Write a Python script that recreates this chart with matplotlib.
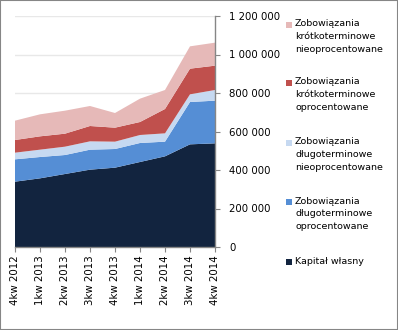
import matplotlib
matplotlib.use("Agg")
import matplotlib.pyplot as plt
from matplotlib.patches import Rectangle
import numpy as np

categories = ["4kw 2012", "1kw 2013", "2kw 2013", "3kw 2013", "4kw 2013",
              "1kw 2014", "2kw 2014", "3kw 2014", "4kw 2014"]

kapital = [339400, 356700, 379200, 401700, 412100, 441600, 471000, 533300, 538500]
dl_opr = [116000, 110800, 98700, 103900, 97000, 98700, 76200, 219900, 221700]
dl_nieopr = [34600, 38100, 43300, 43300, 38100, 41500, 43300, 39900, 55400]
kr_opr = [65800, 69300, 67500, 79700, 72700, 67600, 126400, 133300, 126400]
kr_nieopr = [100500, 114300, 119500, 103900, 76200, 121200, 98700, 116000, 119500]

series_labels = ["Kapitał własny",
                 "Zobowiązania\ndługoterminowe\noprocentowane",
                 "Zobowiązania\ndługoterminowe\nnieoprocentowane",
                 "Zobowiązania\nkrótkoterminowe\noprocentowane",
                 "Zobowiązania\nkrótkoterminowe\nnieoprocentowane"]
colors = ["#12243F", "#558ED5", "#C6D9F1", "#C0504D", "#E6B9B8"]

y_ticks = [0, 200000, 400000, 600000, 800000, 1000000, 1200000]
y_ticklabels = ["0", "200 000", "400 000", "600 000", "800 000", "1 000 000", "1 200 000"]

W, H = 398, 330
fig = plt.figure(figsize=(W / 100, H / 100), dpi=100)
ax = fig.add_axes([15 / W, (H - 247) / H, 200 / W, 231 / H])

x = np.arange(len(categories))
ax.stackplot(x, kapital, dl_opr, dl_nieopr, kr_opr, kr_nieopr,
             colors=colors, linewidth=0, zorder=2)

ax.set_xlim(0, len(categories) - 1)
ax.set_ylim(0, 1200000)
ax.set_yticks(y_ticks)
ax.set_yticklabels(y_ticklabels, fontsize=7.3)
ax.yaxis.tick_right()
ax.set_xticks(x)
ax.set_xticklabels(categories, rotation=90, fontsize=7.4, va="top")
ax.grid(axis="y", color="#E8E8E8", linewidth=1.0, zorder=0)
ax.set_axisbelow(True)

for s in ["top", "left"]:
    ax.spines[s].set_visible(False)
for s in ["right", "bottom"]:
    ax.spines[s].set_color("#868686")
    ax.spines[s].set_linewidth(1.0)
ax.tick_params(axis="y", direction="out", length=3.5, color="#868686", pad=6.5)
ax.tick_params(axis="x", direction="out", length=3.5, color="#868686", pad=2.5)

# Legend (Excel style: square marker aligned with first text line)
entries = list(zip(series_labels, colors))[::-1]
first_line_y = [25, 83, 143, 202, 262]
for (label, col), yy in zip(entries, first_line_y):
    fig.add_artist(Rectangle(((285.5) / W, (H - yy - 3.3) / H), 6.5 / W, 6.5 / H,
                             transform=fig.transFigure, facecolor=col,
                             edgecolor="none"))
    fig.text(295 / W, (H - yy + 5.5) / H, label, fontsize=6.8, va="top",
             ha="left", linespacing=1.55)

fig.add_artist(Rectangle((0, 0), 1, 1, transform=fig.transFigure, fill=False,
                         edgecolor="#868686", linewidth=1.5))

fig.savefig("out.png", dpi=100)
